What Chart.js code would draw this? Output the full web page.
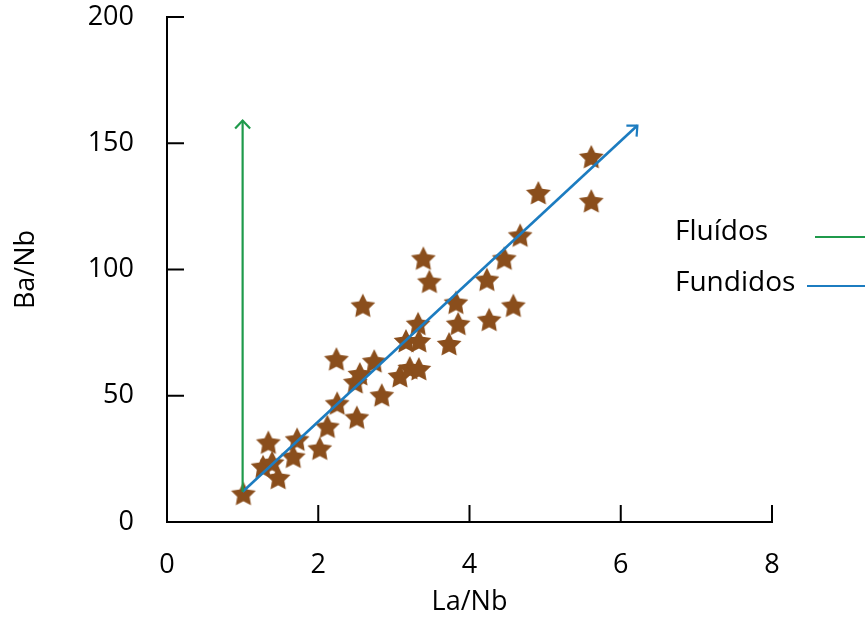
<!DOCTYPE html>
<html>
<head>
<meta charset="utf-8">
<script src="https://cdn.jsdelivr.net/npm/chart.js@4.4.1/dist/chart.umd.min.js"></script>
<style>
  html, body { margin: 0; padding: 0; background: #fff; }
</style>
</head>
<body>
<canvas id="scatter" width="865" height="619"></canvas>
<script>
// La/Nb vs Ba/Nb
const laNb = [1.01, 1.27, 1.34, 1.39, 1.47, 1.67, 1.72, 2.02, 2.12, 2.25, 2.24, 2.51, 2.49, 2.55, 2.59, 2.74, 2.84, 3.08,
              3.21, 3.33, 3.16, 3.33, 3.32, 3.39, 3.47, 3.73, 3.82, 3.85, 4.23, 4.26, 4.46, 4.58, 4.67, 4.91, 5.61, 5.61];
const baNb = [11.2, 21.9, 31.5, 23.5, 17.5, 25.9, 32.7, 29.1, 37.8, 47.0, 64.5, 41.4, 55.4, 58.6, 85.7, 63.7, 50.2, 57.8,
              61.0, 60.6, 71.7, 71.7, 78.5, 104.4, 95.2, 70.5, 86.9, 78.5, 96.0, 80.1, 104.4, 85.7, 113.5, 130.3, 144.6, 127.1];

// trend arrows
const fluidosX = [1.0, 1.0];
const fluidosY = [12, 159];
const fundidosX = [1.0, 6.22];
const fundidosY = [12, 157];

const seriesNames = ['Fluídos', 'Fundidos'];
const xTicks = [0, 2, 4, 6, 8];
const yTicks = [0, 50, 100, 150, 200];

const GREEN = '#1f9a4b';
const BLUE = '#1c7cc0';
const BROWN = '#8a4e1c';

function starImage(size, color) {
    const c = document.createElement('canvas');
    c.width = size;
    c.height = size;
    const g = c.getContext('2d');
    const r = size / 2, ri = r * 0.5;
    g.beginPath();
    for (let i = 0; i < 10; i++) {
        const a = -Math.PI / 2 + i * Math.PI / 5;
        const rr = i % 2 ? ri : r;
        g.lineTo(r + rr * Math.cos(a), r + 1 + rr * Math.sin(a));
    }
    g.closePath();
    g.fillStyle = color;
    g.fill();
    return c;
}

function toPoints(xs, ys) {
    return xs.map((v, i) => ({ x: v, y: ys[i] }));
}

const decor = {
    id: 'decor',
    afterDraw(chart) {
        const { ctx, chartArea, scales: { x, y } } = chart;
        ctx.save();
        ctx.lineCap = 'butt';

        // inward tick marks
        ctx.strokeStyle = '#000';
        ctx.lineWidth = 2;
        ctx.beginPath();
        xTicks.slice(1).forEach(v => {
            const px = x.getPixelForValue(v);
            ctx.moveTo(px, chartArea.bottom);
            ctx.lineTo(px, chartArea.bottom - 17);
        });
        yTicks.slice(1).forEach(v => {
            const py = y.getPixelForValue(v);
            ctx.moveTo(chartArea.left, py);
            ctx.lineTo(chartArea.left + 17, py);
        });
        ctx.stroke();

        // open arrow heads
        function head(xs, ys, color) {
            const x0 = x.getPixelForValue(xs[0]), y0 = y.getPixelForValue(ys[0]);
            const x1 = x.getPixelForValue(xs[1]), y1 = y.getPixelForValue(ys[1]);
            const ang = Math.atan2(y1 - y0, x1 - x0);
            const len = 11;
            ctx.strokeStyle = color;
            ctx.lineWidth = 2.2;
            ctx.beginPath();
            ctx.moveTo(x1 + len * Math.cos(ang + Math.PI - 0.75), y1 + len * Math.sin(ang + Math.PI - 0.75));
            ctx.lineTo(x1, y1);
            ctx.lineTo(x1 + len * Math.cos(ang + Math.PI + 0.75), y1 + len * Math.sin(ang + Math.PI + 0.75));
            ctx.stroke();
        }
        head(fluidosX, fluidosY, GREEN);
        head(fundidosX, fundidosY, BLUE);

        // legend: text then line
        ctx.font = '28px "Open Sans", sans-serif';
        ctx.fillStyle = '#000';
        ctx.textBaseline = 'middle';
        ctx.textAlign = 'left';
        const lx = chartArea.right - 97;
        ctx.fillText(seriesNames[0], lx, 232);
        ctx.fillText(seriesNames[1], lx, 283);
        ctx.lineWidth = 2.2;
        ctx.strokeStyle = GREEN;
        ctx.beginPath();
        ctx.moveTo(chartArea.right + 43, 237);
        ctx.lineTo(chart.width, 237);
        ctx.stroke();
        ctx.strokeStyle = BLUE;
        ctx.beginPath();
        ctx.moveTo(chartArea.right + 35, 286);
        ctx.lineTo(chart.width, 286);
        ctx.stroke();
        ctx.restore();
    }
};

Chart.defaults.font.family = '"Open Sans", sans-serif';
Chart.defaults.color = '#000';

const ctx = document.getElementById('scatter').getContext('2d');
const chart = new Chart(ctx, {
    type: 'scatter',
    data: {
        datasets: [
            {
                type: 'line',
                label: seriesNames[0],
                data: toPoints(fluidosX, fluidosY),
                borderColor: GREEN,
                borderWidth: 2.2,
                pointRadius: 0,
                fill: false
            },
            {
                type: 'line',
                label: seriesNames[1],
                data: toPoints(fundidosX, fundidosY),
                borderColor: BLUE,
                borderWidth: 2.6,
                pointRadius: 0,
                fill: false
            },
            {
                label: 'Amostras',
                data: toPoints(laNb, baNb),
                pointStyle: starImage(26, BROWN),
                pointRadius: 13,
                pointHoverRadius: 13
            }
        ]
    },
    options: {
        responsive: false,
        animation: false,
        events: [],
        layout: {
            padding: { top: 17, right: 93, left: 0, bottom: 0 }
        },
        plugins: {
            legend: { display: false },
            tooltip: { enabled: false }
        },
        scales: {
            x: {
                type: 'linear',
                min: xTicks[0],
                max: xTicks[xTicks.length - 1],
                afterBuildTicks: s => { s.ticks = xTicks.map(v => ({ value: v })); },
                afterFit: s => { s.height = 97; s.paddingLeft = 0; s.paddingRight = 0; },
                grid: { display: false, drawTicks: false },
                border: { display: true, color: '#000', width: 2 },
                ticks: { font: { size: 27 }, padding: 27 },
                title: {
                    display: true,
                    text: 'La/Nb',
                    font: { size: 27 },
                    padding: { top: 0, bottom: 0 }
                }
            },
            y: {
                type: 'linear',
                min: yTicks[0],
                max: yTicks[yTicks.length - 1],
                afterBuildTicks: s => { s.ticks = yTicks.map(v => ({ value: v })); },
                afterFit: s => { s.width = 167; s.paddingTop = 0; s.paddingBottom = 0; },
                grid: { display: false, drawTicks: false },
                border: { display: true, color: '#000', width: 2 },
                ticks: { font: { size: 27 }, padding: 33 },
                title: {
                    display: true,
                    text: 'Ba/Nb',
                    font: { size: 27 },
                    padding: { top: 10, bottom: 0 }
                }
            }
        }
    },
    plugins: [decor]
});
</script>
</body>
</html>
